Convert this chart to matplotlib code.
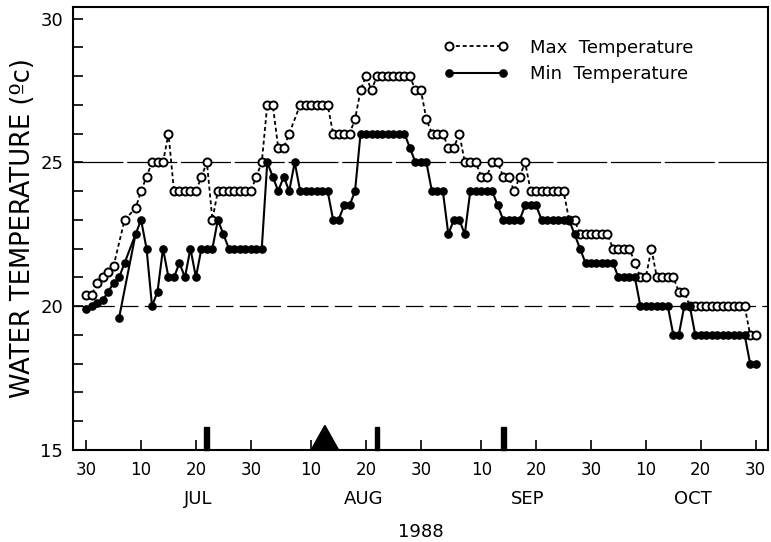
import matplotlib
matplotlib.use("Agg")
import matplotlib.pyplot as plt
from matplotlib.patches import Polygon, Rectangle

plt.rcParams['font.family'] = ['DejaVu Sans']

# Days counted from 30 June 1988
max_days = [0, 1, 2, 3, 4, 5, 7, 9, 10, 11, 12, 13, 14, 15, 16, 17, 18, 19, 20,
            21, 22, 23, 24, 25, 26, 27, 28, 29, 30, 31, 32, 33, 34, 35, 36, 37,
            39, 40, 41, 42, 43, 44, 45, 46, 47, 48, 49, 50, 51, 52, 53, 54, 55,
            56, 57, 58, 59, 60, 61, 62, 63, 64, 65, 66, 67, 68, 69, 70, 71, 72,
            73, 74, 75, 76, 77, 78, 79, 80, 81, 82, 83, 84, 85, 86, 87, 88, 89,
            90, 91, 92, 93, 94, 95, 96, 97, 98, 99, 100, 101, 102, 103, 104, 105,
            106, 107, 108, 109, 110, 111, 112, 113, 114, 115, 116, 117, 118, 119,
            120, 121, 122]
max_temp = [20.4, 20.4, 20.8, 21.0, 21.2, 21.4, 23.0, 23.4, 24.0, 24.5, 25.0, 25.0,
            25.0, 26.0, 24.0, 24.0, 24.0, 24.0, 24.0, 24.5, 25.0, 23.0, 24.0, 24.0,
            24.0, 24.0, 24.0, 24.0, 24.0, 24.5, 25.0, 27.0, 27.0, 25.5, 25.5, 26.0,
            27.0, 27.0, 27.0, 27.0, 27.0, 27.0, 26.0, 26.0, 26.0, 26.0, 26.5, 27.5,
            28.0, 27.5, 28.0, 28.0, 28.0, 28.0, 28.0, 28.0, 28.0, 27.5, 27.5, 26.5,
            26.0, 26.0, 26.0, 25.5, 25.5, 26.0, 25.0, 25.0, 25.0, 24.5, 24.5, 25.0,
            25.0, 24.5, 24.5, 24.0, 24.5, 25.0, 24.0, 24.0, 24.0, 24.0, 24.0, 24.0,
            24.0, 23.0, 23.0, 22.5, 22.5, 22.5, 22.5, 22.5, 22.5, 22.0, 22.0, 22.0,
            22.0, 21.5, 21.0, 21.0, 22.0, 21.0, 21.0, 21.0, 21.0, 20.5, 20.5, 20.0,
            20.0, 20.0, 20.0, 20.0, 20.0, 20.0, 20.0, 20.0, 20.0, 20.0, 19.0, 19.0]

min_days = [0, 1, 2, 3, 4, 5, 6, 7, 9, 10, 11, 12, 13, 14, 15, 16, 17, 18, 19, 20,
            21, 22, 23, 24, 25, 26, 27, 28, 29, 30, 31, 32, 33, 34, 35, 36, 37, 38,
            39, 40, 41, 42, 43, 44, 45, 46, 47, 48, 49, 50, 51, 52, 53, 54, 55, 56,
            57, 58, 59, 60, 61, 62, 63, 64, 65, 66, 67, 68, 69, 70, 71, 72, 73, 74,
            75, 76, 77, 78, 79, 80, 81, 82, 83, 84, 85, 86, 87, 88, 89, 90, 91, 92,
            93, 94, 95, 96, 97, 98, 99, 100, 101, 102, 103, 104, 105, 106, 107, 108,
            109, 110, 111, 112, 113, 114, 115, 116, 117, 118, 119, 120, 121, 122]
min_temp = [19.9, 20.0, 20.1, 20.2, 20.5, 20.8, 21.0, 21.5, 22.5, 23.0, 22.0, 20.0,
            20.5, 22.0, 21.0, 21.0, 21.5, 21.0, 22.0, 21.0, 22.0, 22.0, 22.0, 23.0,
            22.5, 22.0, 22.0, 22.0, 22.0, 22.0, 22.0, 22.0, 25.0, 24.5, 24.0, 24.5,
            24.0, 25.0, 24.0, 24.0, 24.0, 24.0, 24.0, 24.0, 23.0, 23.0, 23.5, 23.5,
            24.0, 26.0, 26.0, 26.0, 26.0, 26.0, 26.0, 26.0, 26.0, 26.0, 25.5, 25.0,
            25.0, 25.0, 24.0, 24.0, 24.0, 22.5, 23.0, 23.0, 22.5, 24.0, 24.0, 24.0,
            24.0, 24.0, 23.5, 23.0, 23.0, 23.0, 23.0, 23.5, 23.5, 23.5, 23.0, 23.0,
            23.0, 23.0, 23.0, 23.0, 22.5, 22.0, 21.5, 21.5, 21.5, 21.5, 21.5, 21.5,
            21.0, 21.0, 21.0, 21.0, 20.0, 20.0, 20.0, 20.0, 20.0, 20.0, 19.0, 19.0,
            20.0, 20.0, 19.0, 19.0, 19.0, 19.0, 19.0, 19.0, 19.0, 19.0, 19.0, 19.0,
            18.0, 18.0]

# Second minimum-temperature trace (separate record joined to the early peak)
min_branch_days = [6, 9]
min_branch_temp = [19.6, 22.5]

# Event markers along the date axis
event_bar_days = [22, 53, 76]
event_bar_height = 0.8
event_tri_days = [41, 43.5, 46]
event_tri_height = 0.85

tick_days = [0, 10, 20, 30, 41, 51, 61, 72, 82, 92, 102, 112, 122]
tick_labels = ['30', '10', '20', '30', '10', '20', '30', '10', '20', '30', '10', '20', '30']
month_names = ['JUL', 'AUG', 'SEP', 'OCT']
month_centers = [20.5, 50.5, 80.5, 110.5]
year_label = '1988'

fig = plt.figure(figsize=(7.71, 5.42), dpi=100)
ax = fig.add_axes([0.0947, 0.170, 0.901, 0.817])

ax.set_xlim(-2.4, 124.2)
ax.set_ylim(15, 30.4)

# Reference lines at 25 and 20 degrees
ax.axhline(25, color='black', lw=0.9, ls=(0, (40, 3)), zorder=1)
ax.axhline(20, color='black', lw=0.9, ls=(0, (14, 5)), zorder=1)

max_line, = ax.plot(max_days, max_temp, color='black', ls=(0, (2.2, 1.6)), lw=1.3,
                    marker='o', markersize=5.8, markerfacecolor='white',
                    markeredgecolor='black', markeredgewidth=1.4, zorder=3,
                    label='Max  Temperature')
min_line, = ax.plot(min_days, min_temp, color='black', ls='-', lw=1.5,
                    marker='o', markersize=5.2, markerfacecolor='black',
                    markeredgecolor='black', zorder=4, label='Min  Temperature')
ax.plot(min_branch_days, min_branch_temp, color='black', ls='-', lw=1.5,
        marker='o', markersize=5.2, markevery=[0], markerfacecolor='black', zorder=4)

for d in event_bar_days:
    ax.add_patch(Rectangle((d - 0.45, 15), 0.9, event_bar_height,
                           facecolor='black', edgecolor='black', zorder=5,
                           clip_on=False))
tri = Polygon([(event_tri_days[0], 15), (event_tri_days[1], 15 + event_tri_height),
               (event_tri_days[2], 15)], closed=True, facecolor='black',
              edgecolor='black', zorder=5)
ax.add_patch(tri)

# Axes styling
for s in ax.spines.values():
    s.set_linewidth(1.5)
ax.set_yticks([15, 20, 25, 30])
ax.set_yticks(range(15, 31), minor=True)
ax.set_xticks(tick_days)
ax.set_xticklabels(tick_labels)
ax.tick_params(axis='both', direction='in', length=7, width=1.2)
ax.tick_params(axis='x', labelsize=12, pad=8)
ax.tick_params(axis='y', labelsize=13, pad=7)
ax.tick_params(axis='y', which='minor', direction='in', length=7, width=1.2)

ax.set_ylabel('WATER TEMPERATURE (ºc)', fontsize=18.5, labelpad=3)

for name, c in zip(month_names, month_centers):
    ax.text(c, -0.11, name, transform=ax.get_xaxis_transform(), ha='center',
            va='center', fontsize=13)
ax.text(61, -0.185, year_label, transform=ax.get_xaxis_transform(), ha='center',
        va='center', fontsize=13)

ax.legend(handles=[max_line, min_line], loc='upper left',
          bbox_to_anchor=(0.51, 0.965), frameon=False, numpoints=2,
          handlelength=3.6, handletextpad=1.2, labelspacing=0.45, fontsize=13)

fig.savefig('out.png', dpi=100)
